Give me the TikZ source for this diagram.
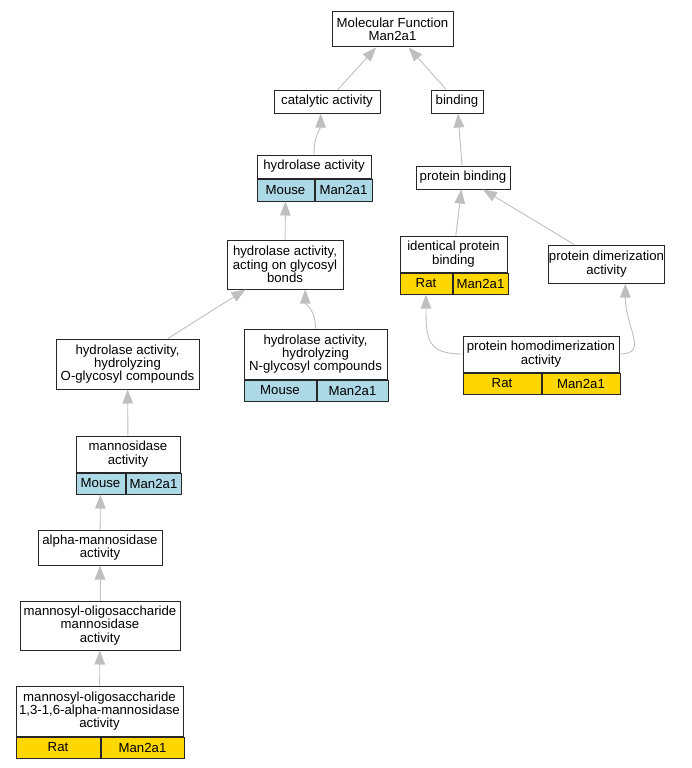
\documentclass[tikz,border=0pt]{standalone}
\usepackage{fontspec}
\setmainfont{Liberation Sans}
\usepackage{tikz}
\usetikzlibrary{arrows.meta,positioning}
\definecolor{mouse}{HTML}{ADD8E6}
\definecolor{rat}{HTML}{FFD700}
\newcommand{\gofont}{\fontsize{13.2}{13.3}\selectfont}

\begin{document}
\begin{tikzpicture}[x=1pt,y=-1pt,>={Triangle[length=14pt,width=10.5pt]},
 term/.style={draw=black!85,line width=1pt,fill=white,align=center,inner sep=0pt,font=\gofont},
 cell/.style={term,anchor=north west,minimum height=21pt},
 edge/.style={->,draw=black!25,line width=0.9pt}]
\useasboundingbox (0,0) rectangle (691,768);
% terms
\node[term,minimum width=121pt,minimum height=35pt] (mf) at (392.5,29.5) {Molecular Function\\Man2a1};
\node[term,minimum width=106pt,minimum height=23pt] (cat) at (327,101.5) {catalytic activity};
\node[term,minimum width=52pt,minimum height=23pt] (bind) at (457,101.5) {binding};
\node[term,minimum width=114pt,minimum height=23pt] (hyd) at (314,166.5) {hydrolase activity};
\node[cell,fill=mouse,minimum width=57pt,minimum height=22pt] (hydsp) at (hyd.south west) {Mouse};
\node[cell,fill=mouse,minimum width=57pt,minimum height=22pt] (hydgn) at (hydsp.north east) {Man2a1};
\node[term,minimum width=94pt,minimum height=23pt] (pbind) at (463,177.5) {protein binding};
\node[term,minimum width=116pt,minimum height=49pt] (glyc) at (285,264.5) {hydrolase activity,\\acting on glycosyl\\bonds};
\node[term,minimum width=107pt,minimum height=36pt] (ident) at (453.5,254) {identical protein\\binding};
\node[cell,fill=rat,minimum width=52pt] (identsp) at (ident.south west) {Rat};
\node[cell,fill=rat,minimum width=55pt] (identgn) at (identsp.north east) {Man2a1};
\node[term,minimum width=109pt,minimum height=38pt] (dimer) at (606.5,264) {protein dimerization\\activity};
\node[term,minimum width=143pt,minimum height=50pt] (nglyc) at (315.5,354) {hydrolase activity,\\hydrolyzing\\N-glycosyl compounds};
\node[cell,fill=mouse,minimum width=72pt] (nglycsp) at (nglyc.south west) {Mouse};
\node[cell,fill=mouse,minimum width=71pt] (nglycgn) at (nglycsp.north east) {Man2a1};
\node[term,minimum width=156pt,minimum height=36pt] (homo) at (541,354) {protein homodimerization\\activity};
\node[cell,fill=rat,minimum width=78pt] (homosp) at (homo.south west) {Rat};
\node[cell,fill=rat,minimum width=78pt] (homogn) at (homosp.north east) {Man2a1};
\node[term,minimum width=143pt,minimum height=50pt] (oglyc) at (127.5,364) {hydrolase activity,\\hydrolyzing\\O-glycosyl compounds};
\node[term,minimum width=104pt,minimum height=36pt] (manno) at (128,454) {mannosidase\\activity};
\node[cell,fill=mouse,minimum width=49pt] (mannosp) at (manno.south west) {Mouse};
\node[cell,fill=mouse,minimum width=55pt] (mannogn) at (mannosp.north east) {Man2a1};
\node[term,minimum width=124pt,minimum height=35pt] (alpha) at (100,547.5) {alpha-mannosidase\\activity};
\node[term,minimum width=160pt,minimum height=49pt] (molig) at (100,625.5) {mannosyl-oligosaccharide\\mannosidase\\activity};
\node[term,minimum width=167pt,minimum height=50pt] (mman) at (99.5,711) {mannosyl-oligosaccharide\\1,3-1,6-alpha-mannosidase\\activity};
\node[cell,fill=rat,minimum width=84pt] (mmansp) at (mman.south west) {Rat};
\node[cell,fill=rat,minimum width=83pt] (mmangn) at (mmansp.north east) {Man2a1};
% is_a edges
\draw[edge] (cat) -- (mf);
\draw[edge] (bind) -- (mf);
\draw[edge] (hyd.north) .. controls +(0,-20) and +(0,15) .. (cat.-118);
\draw[edge] (pbind) -- (bind);
\draw[edge] (glyc) -- (hydsp);
\draw[edge] (ident) -- (pbind);
\draw[edge] (dimer) -- (pbind);
\draw[edge] (oglyc) -- (glyc);
\draw[edge] (nglyc.north) .. controls +(0,-20) and +(0,15) .. (glyc.-51);
\draw[edge] (homo.west) .. controls +(-35,0) and +(0,45) .. (identsp.south);
\draw[edge] (homo.east) .. controls +(30,0) and +(0,45) .. (dimer.-46);
\draw[edge] (manno) -- (oglyc);
\draw[edge] (alpha) -- (mannosp);
\draw[edge] (molig) -- (alpha);
\draw[edge] (mman) -- (molig);
\end{tikzpicture}
\end{document}
